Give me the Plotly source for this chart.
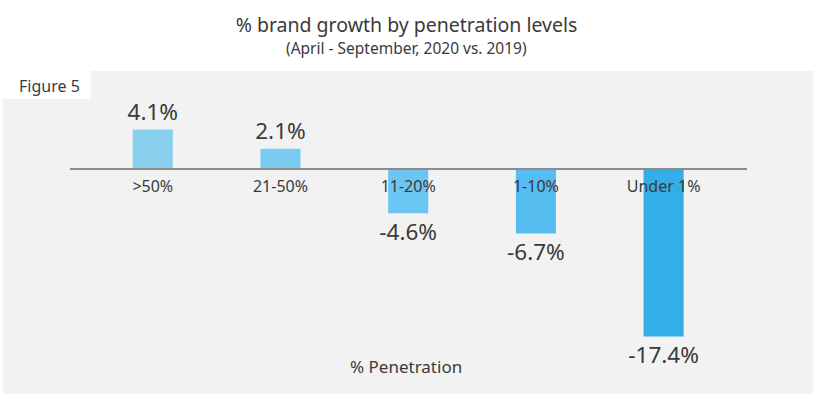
import plotly.graph_objects as go

categories = [">50%", "21-50%", "11-20%", "1-10%", "Under 1%"]
growth = [4.1, 2.1, -4.6, -6.7, -17.4]
labels = ["4.1%", "2.1%", "-4.6%", "-6.7%", "-17.4%"]
bar_colors = ["#88CFEE", "#7BCBF0", "#6CC6F3", "#55BDEF", "#35AEE7"]

W, H = 823, 399
ML, MR, MT, MB = 70, 76, 100, 19
PW, PH = W - ML - MR, H - MT - MB


def px_x(x):
    return (x - ML) / PW


def px_y(y):
    return (H - MB - y) / PH


FONT = "'Noto Sans', Lato, sans-serif"
TXT = "#3a3a3a"

fig = go.Figure(
    go.Bar(
        x=categories,
        y=growth,
        text=labels,
        textposition="outside",
        constraintext="none",
        textfont=dict(size=22.5, color=TXT, family=FONT),
        marker=dict(color=bar_colors, line=dict(width=0)),
        width=0.314,
        cliponaxis=False,
        hoverinfo="skip",
    )
)

zero_pos = px_y(169)

fig.update_layout(
    width=W,
    height=H,
    margin=dict(l=ML, r=MR, t=MT, b=MB),
    paper_bgcolor="white",
    plot_bgcolor="rgba(0,0,0,0)",
    showlegend=False,
    font=dict(family=FONT, color=TXT),
    title=dict(
        text="% brand growth by penetration levels",
        x=px_x(406.5), xref="paper", xanchor="center",
        y=1 - 25 / H, yref="container", yanchor="middle",
        font=dict(size=19.5, color=TXT, family=FONT),
    ),
    xaxis=dict(
        type="category",
        range=[-0.648, 4.653],
        anchor="free",
        position=zero_pos,
        showline=True,
        linecolor="#8C8C8C",
        linewidth=1.5,
        ticks="outside",
        ticklen=3,
        tickcolor="rgba(0,0,0,0)",
        tickfont=dict(size=16, color=TXT, family=FONT),
        showgrid=False,
        zeroline=False,
        layer="above traces",
    ),
    yaxis=dict(
        range=[-(H - MB - 169) / 9.62, (169 - MT) / 9.62],
        visible=False,
        showgrid=False,
        zeroline=False,
    ),
    shapes=[
        dict(type="rect", xref="paper", yref="paper",
             x0=px_x(3), x1=px_x(813), y0=px_y(394), y1=px_y(71),
             fillcolor="#F2F2F2", line=dict(width=0), layer="below"),
        dict(type="rect", xref="paper", yref="paper",
             x0=px_x(0), x1=px_x(91), y0=px_y(99), y1=px_y(71),
             fillcolor="white", line=dict(width=0), layer="below"),
    ],
    annotations=[
        dict(text="(April - September, 2020 vs. 2019)", xref="paper", yref="paper",
             x=px_x(406.5), y=px_y(47.5), xanchor="center", yanchor="middle",
             showarrow=False, font=dict(size=15.5, color=TXT, family=FONT)),
        dict(text="Figure 5", xref="paper", yref="paper",
             x=px_x(17), y=px_y(86), xanchor="left", yanchor="middle",
             showarrow=False, font=dict(size=16, color=TXT, family=FONT)),
        dict(text="% Penetration", xref="paper", yref="paper",
             x=px_x(405.5), y=px_y(366), xanchor="center", yanchor="middle",
             showarrow=False, font=dict(size=17, color=TXT, family=FONT)),
    ],
)

fig.write_html("out.html", config={"displayModeBar": False},
               post_script="document.body.style.margin='0px';")
